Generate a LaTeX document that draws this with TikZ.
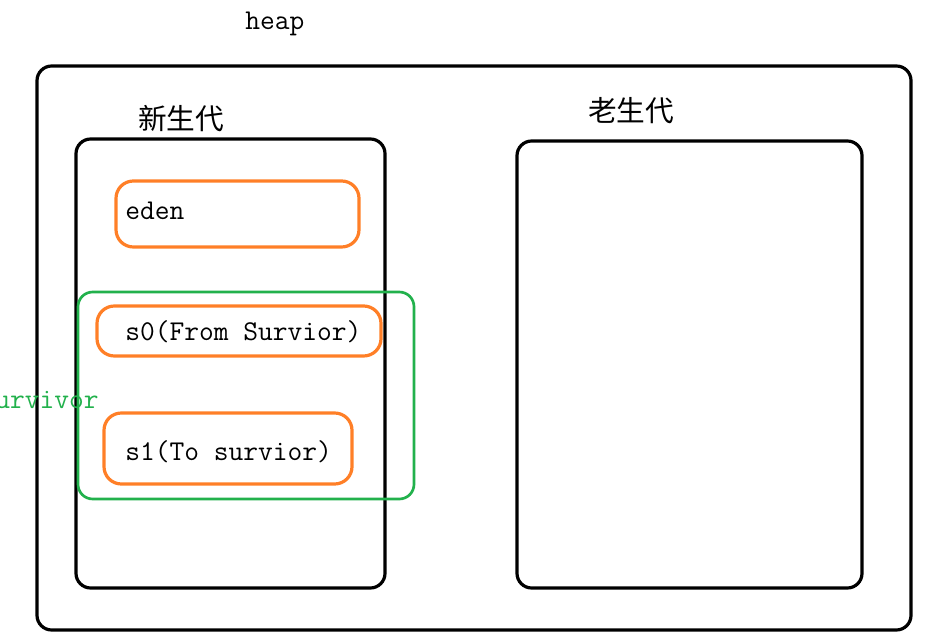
\documentclass[tikz,border=0pt]{standalone}
\usepackage{fontspec}
\newfontfamily\cjk{Noto Sans CJK SC}
\definecolor{memorange}{RGB}{255,127,39}
\definecolor{survgreen}{RGB}{34,177,76}

\begin{document}
\begin{tikzpicture}[x=0.75pt,y=-0.75pt,
  lbl/.style={font=\fontsize{21.5pt}{24pt}\ttfamily, inner sep=0pt},
  cjklbl/.style={font=\fontsize{21.5pt}{24pt}\cjk, inner sep=0pt},
  blackbox/.style={draw=black, line width=2.4pt, rounded corners=11pt},
  membox/.style={draw=memorange, line width=2.4pt, rounded corners=13pt},
  survbox/.style={draw=survgreen, line width=2pt, rounded corners=11pt}]
\useasboundingbox (0,0) rectangle (931,634);
\clip (0,0) rectangle (931,634);

% heap
\node[lbl, anchor=base west] (heap) at (245,30) {heap};
\draw[blackbox] (37,66) rectangle (911,630);

% young / old generation
\node[cjklbl] (young) at (181,119) {新生代};
\draw[blackbox] (76,139) rectangle (385,588);
\node[cjklbl] (old) at (631,111) {老生代};
\draw[blackbox] (517,141) rectangle (862,588);

% eden and survivor spaces
\draw[membox] (116,181) rectangle (359,247);
\node[lbl, anchor=base west] (eden) at (125,220) {eden};
\draw[membox] (97,306) rectangle (381,356);
\node[lbl, anchor=base west] (s0) at (125,340) {s0(From Survior)};
\draw[membox] (104,413) rectangle (352,484);
\node[lbl, anchor=base west] (s1) at (125,460) {s1(To survior)};

\draw[survbox] (78,292) rectangle (414,499);
\node[lbl, anchor=base east, text=survgreen] (surv) at (99,408) {survivor};
\end{tikzpicture}
\end{document}
